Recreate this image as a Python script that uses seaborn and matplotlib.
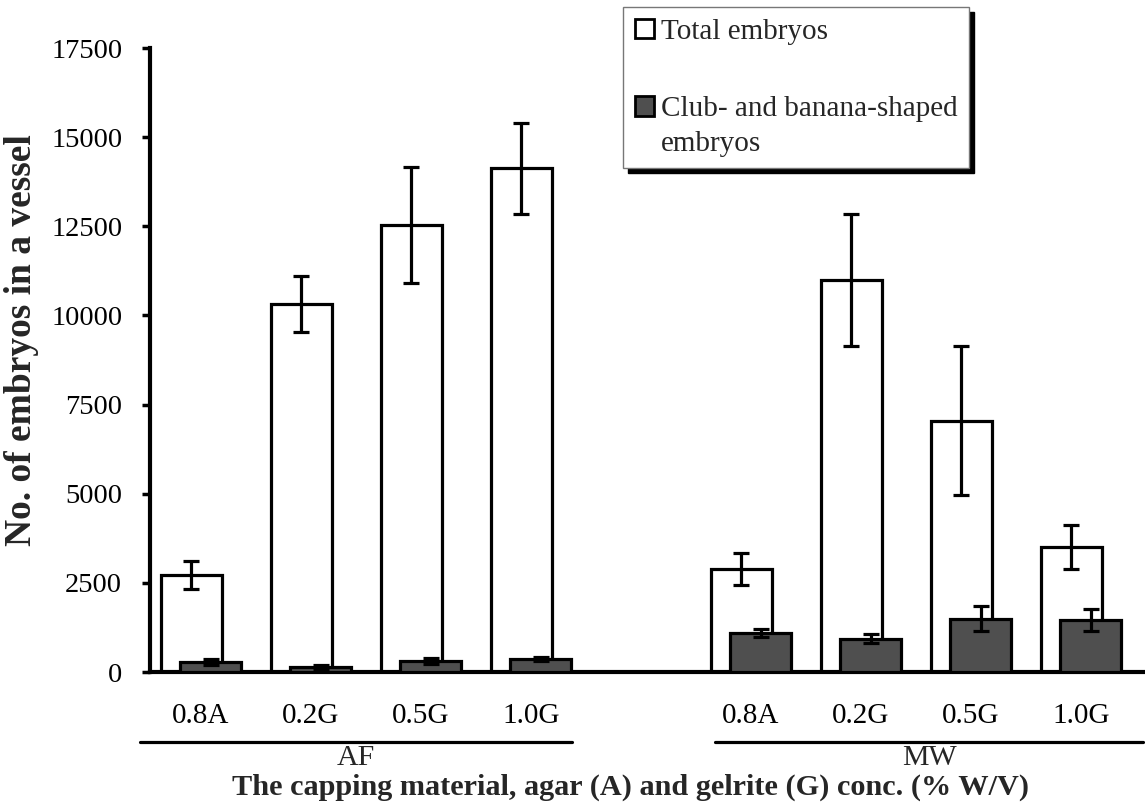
import numpy as np
import matplotlib
matplotlib.use("Agg")
import matplotlib.pyplot as plt
from matplotlib.patches import Rectangle
from matplotlib.legend_handler import HandlerPatch
import seaborn as sns

# Categories: capping material concentration, grouped by vessel type
conc_labels = ["0.8A", "0.2G", "0.5G", "1.0G", "0.8A", "0.2G", "0.5G", "1.0G"]
groups = ["AF", "MW"]

# Mean number of embryos per vessel and their error bars
total_embryos = [2720, 10320, 12540, 14130, 2890, 11000, 7050, 3500]
total_err = [400, 780, 1630, 1280, 450, 1850, 2080, 620]
shaped_embryos = [290, 150, 300, 360, 1090, 930, 1490, 1460]
shaped_err = [80, 60, 80, 60, 120, 130, 350, 310]

sns.set_theme(style="white")
plt.rcParams["font.family"] = ["Liberation Serif", "DejaVu Serif"]

fig = plt.figure(figsize=(11.45, 8.08), dpi=100)
ax = fig.add_axes([150 / 1145, 1 - 672 / 808, 993 / 1145, 624 / 808])

# bar slots, with one empty slot separating the two vessel types
pos = np.array([0, 1, 2, 3, 5, 6, 7, 8], dtype=float)
shift = 0.173
width = 0.555
dark = "#4f4f4f"

sns.barplot(x=pos, y=total_embryos, native_scale=True, width=width,
            color="white", edgecolor="black", linewidth=2.3,
            errorbar=None, ax=ax, zorder=2)
ax.errorbar(pos, total_embryos, yerr=total_err, fmt="none", ecolor="black",
            elinewidth=2.3, capsize=6, capthick=2.3, zorder=3)

sns.barplot(x=pos + shift, y=shaped_embryos, native_scale=True, width=width,
            color=dark, edgecolor="black", linewidth=2.3,
            errorbar=None, ax=ax, zorder=4)
ax.errorbar(pos + shift, shaped_embryos, yerr=shaped_err, fmt="none",
            ecolor="black", elinewidth=2.3, capsize=6, capthick=2.3, zorder=5)

for p in ax.patches[len(pos):]:
    p.set_facecolor(dark)

ax.set_xlim(-0.377, 8.65)
ax.set_ylim(0, 17500)
ax.set_yticks(np.arange(0, 17501, 2500))
ax.set_yticklabels([str(v) for v in range(0, 17501, 2500)], fontsize=20.5)
ax.set_xticks(pos + shift / 2)
ax.set_xticklabels(conc_labels, fontsize=21)
ax.tick_params(axis="y", direction="out", length=6, width=2.5, pad=14,
               left=True, colors="black")
ax.tick_params(axis="x", length=0, pad=22, colors="black")
ax.set_xlabel("")
ax.set_ylabel("")

for side in ["top", "right"]:
    ax.spines[side].set_visible(False)
for side in ["left", "bottom"]:
    ax.spines[side].set_linewidth(3)
    ax.spines[side].set_color("black")

# group brackets under the tick labels
trans = ax.get_xaxis_transform()
for name, (x0, x1) in zip(groups, [(-0.468, 3.459), (4.76, 8.65)]):
    ax.plot([x0, x1], [-0.112, -0.112], color="black", lw=2.3,
            transform=trans, clip_on=False)
    ax.text((x0 + x1) / 2, -0.138, name, transform=trans, ha="center",
            va="center", fontsize=21.5)

fig.text(630 / 1145, 1 - 787 / 808,
         "The capping material, agar (A) and gelrite (G) conc. (% W/V)",
         ha="center", va="center", fontsize=21.8, fontweight="bold")
fig.text(22 / 1145, 1 - 340 / 808, "No. of embryos in a vessel",
         rotation=90, ha="center", va="center", fontsize=27, fontweight="bold")


class TopAlignedPatch(HandlerPatch):
    """Square legend key raised to sit beside the first line of its label."""

    def __init__(self, raise_pts=0.0, **kw):
        super().__init__(**kw)
        self.raise_pts = raise_pts

    def create_artists(self, legend, orig_handle, xdescent, ydescent,
                       width, height, fontsize, trans):
        p = Rectangle((-xdescent, -ydescent + self.raise_pts), width, height)
        self.update_prop(p, orig_handle, legend)
        p.set_transform(trans)
        return [p]


h_total = Rectangle((0, 0), 1, 1, facecolor="white", edgecolor="black", lw=2)
h_shaped = Rectangle((0, 0), 1, 1, facecolor=dark, edgecolor="black", lw=2)
leg = fig.legend([h_total, h_shaped],
                 ["Total embryos", "Club- and banana-shaped\nembryos"],
                 loc="upper left", bbox_to_anchor=(623 / 1145, 1 - 7 / 808),
                 borderaxespad=0, fontsize=21, frameon=True, fancybox=False,
                 handlelength=0.65, handleheight=0.65, handletextpad=0.25,
                 labelspacing=1.75, borderpad=0.4,
                 handler_map={h_total: TopAlignedPatch(0.0),
                              h_shaped: TopAlignedPatch(14.5)},
                 shadow={"ox": 3.5, "oy": -3.5, "color": "black", "alpha": 1})
for t in leg.get_texts():
    t.set_linespacing(1.45)
leg.get_frame().set_edgecolor("#777777")
leg.get_frame().set_linewidth(1)

fig.savefig("out.png", dpi=100, facecolor="white")
